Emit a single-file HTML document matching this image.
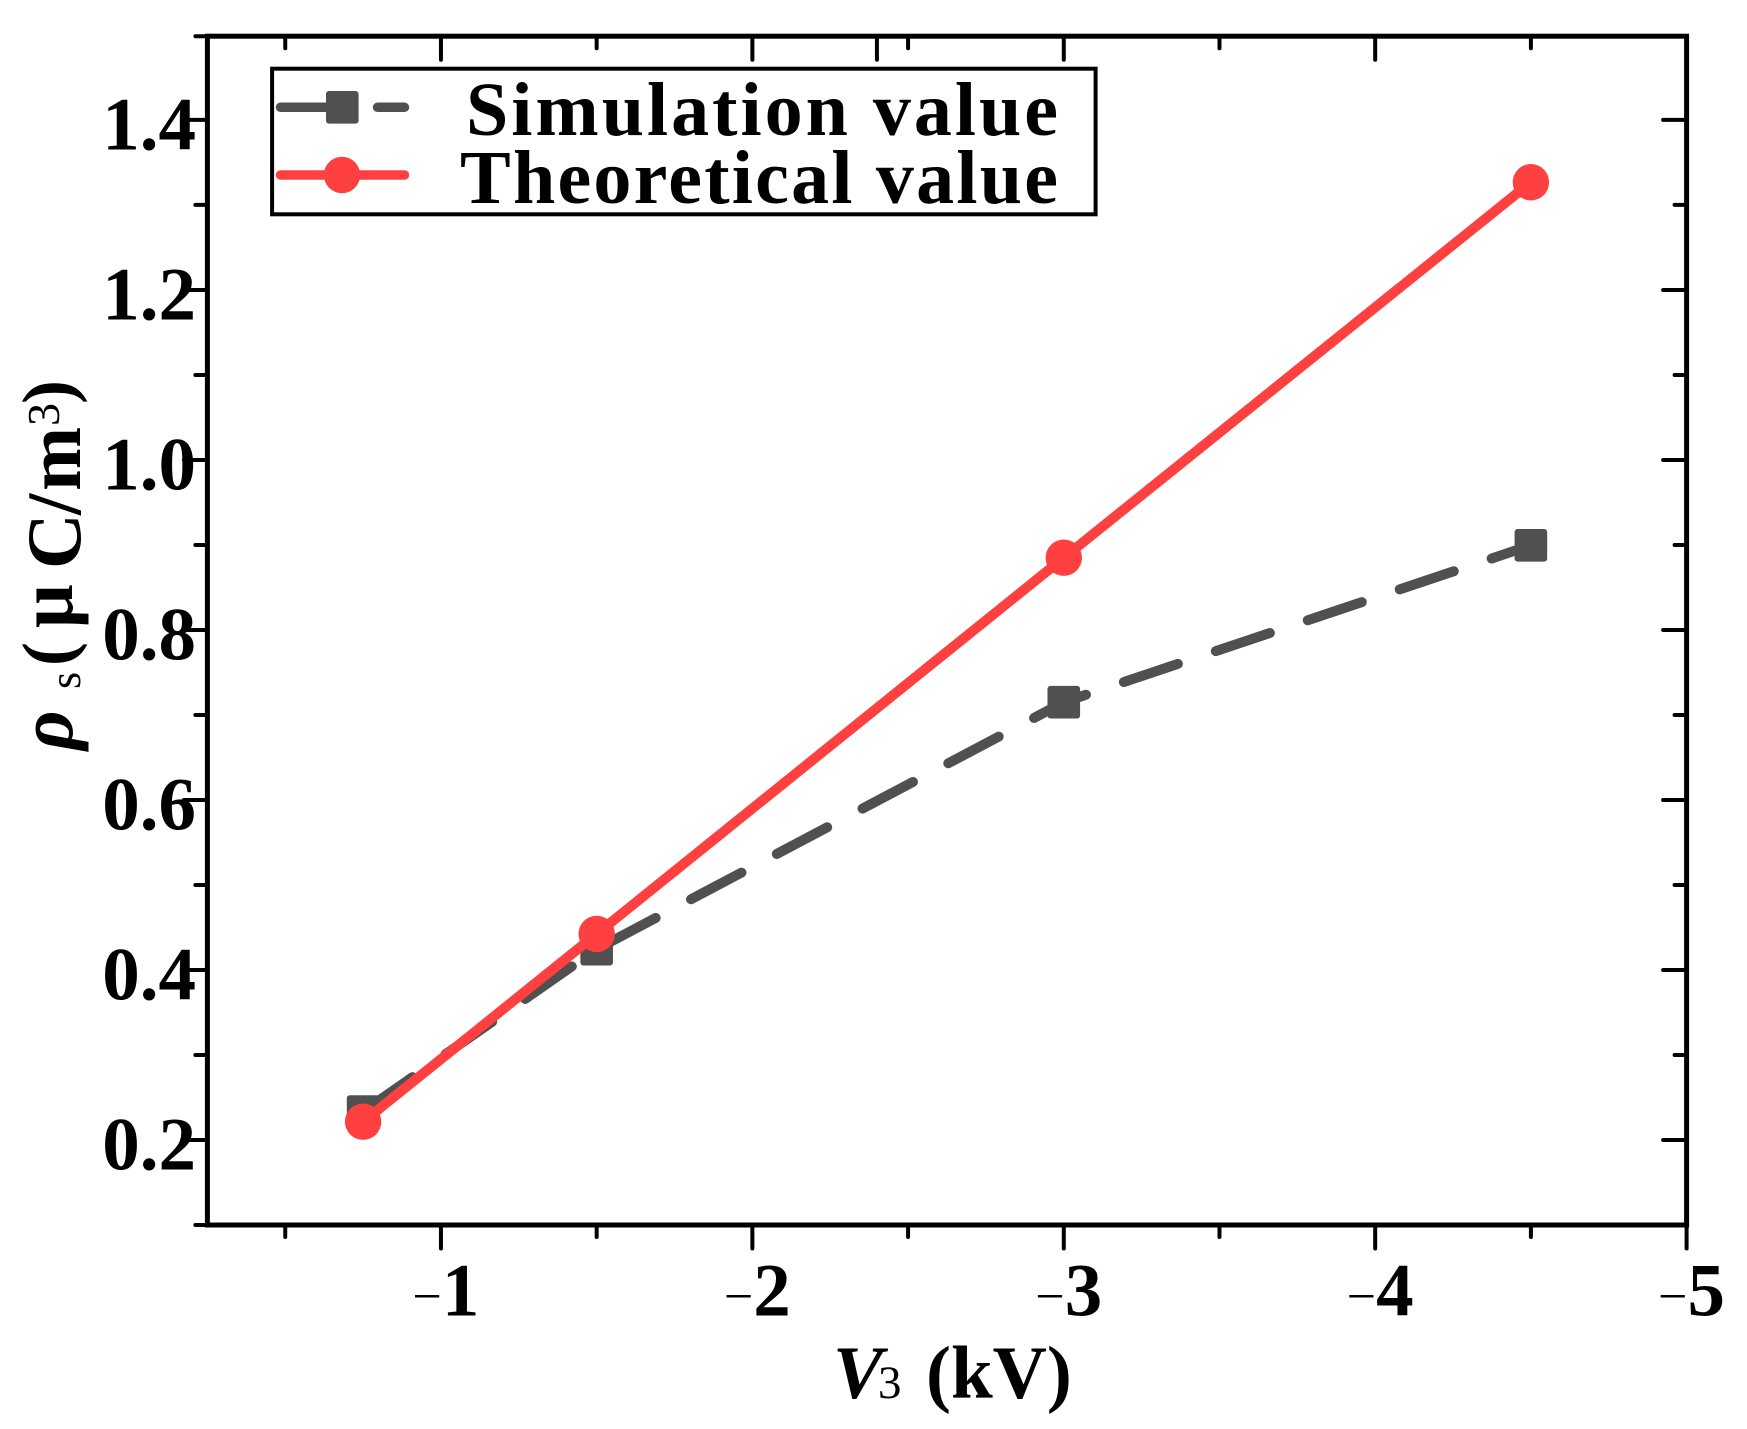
<!DOCTYPE html>
<html lang="en">
<head>
<meta charset="utf-8">
<title>Surface charge density vs V3</title>
<style>
html,body{margin:0;padding:0;background:#fff;width:1747px;height:1429px;overflow:hidden}
svg{display:block}
text{font-family:"Liberation Serif",serif;font-weight:bold;fill:#000}
</style>
</head>
<body>
<svg id="chart" xmlns="http://www.w3.org/2000/svg" width="1747" height="1429" viewBox="0 0 1747 1429">
  <rect x="0" y="0" width="1747" height="1429" fill="#fff"/>
  <g id="labels"></g>
  <g id="ticks"></g>
  <g id="frame"></g>
  <g id="series"></g>

  <text transform="translate(80,750) rotate(-90)" font-size="77"><tspan x="0" y="-8" font-style="italic">ρ</tspan><tspan x="61" y="0" font-size="44" font-weight="normal">s</tspan><tspan x="84" y="-8" font-size="72">(</tspan><tspan x="122" y="-8">μ</tspan><tspan x="181" y="0">C</tspan><tspan x="235" y="0">/</tspan><tspan x="259" y="0">m</tspan><tspan x="324" y="-21" font-size="46" font-weight="normal">3</tspan><tspan x="346" y="-8" font-size="72">)</tspan></text>
  <text font-size="75" y="1398"><tspan x="833" font-style="italic">V</tspan><tspan x="878" font-size="47" font-weight="normal">3</tspan><tspan x="926">(kV)</tspan></text>

  <g>
    <rect x="272.1" y="68.7" width="823.5" height="145.6" fill="#fff" stroke="#000" stroke-width="4"/>
    <line x1="280.5" y1="107.3" x2="404.5" y2="107.3" stroke="#505050" stroke-width="9.5" stroke-linecap="round" stroke-dasharray="57 40"/>
    <rect x="326" y="91" width="32.6" height="32.6" rx="3" fill="#505050"/>
    <text x="466" y="135" font-size="76" textLength="592" lengthAdjust="spacing">Simulation value</text>
    <line x1="280.5" y1="175" x2="404.5" y2="175" stroke="#ff4040" stroke-width="9.5" stroke-linecap="round"/>
    <circle cx="342" cy="175" r="18.2" fill="#ff4040"/>
    <text x="460" y="203" font-size="76" textLength="598" lengthAdjust="spacing">Theoretical value</text>
  </g>
</svg>
<script>
var voltageValues = [-0.75, -1.5, -3, -4.5];
var simulationValues = [0.2335, 0.4245, 0.715, 0.8996];
var theoreticalValues = [0.2215, 0.4424, 0.885, 1.3267];
var xMajorTicks = [-1, -2, -3, -4, -5];
var xMinorTicks = [-0.5, -1.5, -2.5, -3.5, -4.5];
var xExtraTopTicks = [-2.4];
var xTickLabels = ['1', '2', '3', '4', '5'];
var yMajorTicks = [0.2, 0.4, 0.6, 0.8, 1.0, 1.2, 1.4];
var yMinorTicks = [0.1, 0.3, 0.5, 0.7, 0.9, 1.1, 1.3, 1.4985];
var yTickLabels = ['0.2', '0.4', '0.6', '0.8', '1.0', '1.2', '1.4'];
var xDomain = [-0.25, -5];
var yDomain = [0.1, 1.4985];

var NS = 'http://www.w3.org/2000/svg';
var plotLeft = 207.4, plotRight = 1686.6, plotTop = 36.2, plotBottom = 1225;

function xScale(v) {
  return plotLeft + (v - xDomain[0]) / (xDomain[1] - xDomain[0]) * (plotRight - plotLeft);
}
function yScale(v) {
  return plotBottom - (v - yDomain[0]) / (yDomain[1] - yDomain[0]) * (plotBottom - plotTop);
}
function make(tag, parent, attrs) {
  var el = document.createElementNS(NS, tag);
  for (var k in attrs) el.setAttribute(k, attrs[k]);
  parent.appendChild(el);
  return el;
}
function tickLine(parent, x1, y1, x2, y2, name) {
  var el = make('line', parent, {x1: x1, y1: y1, x2: x2, y2: y2, stroke: '#000', 'stroke-width': 4, 'stroke-linecap': 'round'});
  
  
}

var ticks = document.getElementById('ticks');
var MAJOR = 23.5, MINOR = 12;
xMajorTicks.forEach(function (v) {
  var x = xScale(v);
  tickLine(ticks, x, plotBottom, x, plotBottom + MAJOR, 'x-major-tick');
  tickLine(ticks, x, plotTop, x, plotTop + MAJOR, 'top-major-tick');
});
xMinorTicks.forEach(function (v) {
  var x = xScale(v);
  tickLine(ticks, x, plotBottom, x, plotBottom + MINOR, 'x-minor-tick');
  tickLine(ticks, x, plotTop, x, plotTop + MINOR, 'top-minor-tick');
});
xExtraTopTicks.forEach(function (v) {
  var x = xScale(v);
  tickLine(ticks, x, plotTop, x, plotTop + MAJOR, 'top-extra-tick');
});
yMajorTicks.forEach(function (v) {
  var y = yScale(v);
  tickLine(ticks, plotLeft, y, plotLeft - MAJOR, y, 'y-major-tick');
  tickLine(ticks, plotRight, y, plotRight - MAJOR, y, 'right-major-tick');
});
yMinorTicks.forEach(function (v) {
  var y = yScale(v);
  tickLine(ticks, plotLeft, y, plotLeft - MINOR, y, 'y-minor-tick');
  if (v > yDomain[0] && v < 1.4) {
    tickLine(ticks, plotRight, y, plotRight - MINOR, y, 'right-minor-tick');
  }
});

var frame = document.getElementById('frame');
var axisRect = make('rect', frame, {x: plotLeft, y: plotTop, width: plotRight - plotLeft, height: plotBottom - plotTop, fill: 'none', stroke: '#000', 'stroke-width': 5});



var labels = document.getElementById('labels');
yMajorTicks.forEach(function (v, i) {
  var t = make('text', labels, {x: 196, y: yScale(v) + 29.5, 'text-anchor': 'end', 'font-size': 75});
  
  
  t.textContent = yTickLabels[i];
});
xMajorTicks.forEach(function (v, i) {
  var t = make('text', labels, {x: xScale(v) + 5, y: 1315.7, 'text-anchor': 'middle', 'font-size': 75});
  
  
  var minus = make('tspan', t, {'font-size': 52, 'font-weight': 'normal', dy: -2});
  minus.textContent = '\u2212';
  var num = make('tspan', t, {dy: 2});
  num.textContent = xTickLabels[i];
});

var series = document.getElementById('series');
function pointsFor(vals) {
  return vals.map(function (v, i) {
    return xScale(voltageValues[i]).toFixed(2) + ',' + yScale(v).toFixed(2);
  }).join(' ');
}
var simLine = make('polyline', series, {points: pointsFor(simulationValues), fill: 'none', stroke: '#505050', 'stroke-width': 10, 'stroke-linecap': 'round', 'stroke-linejoin': 'round', 'stroke-dasharray': '57 40', 'stroke-dashoffset': -3.2});


simulationValues.forEach(function (v, i) {
  var m = make('rect', series, {x: xScale(voltageValues[i]) - 16.3, y: yScale(v) - 16.3, width: 32.6, height: 32.6, rx: 3, fill: '#505050'});
  
  
});
var theoLine = make('polyline', series, {points: pointsFor(theoreticalValues), fill: 'none', stroke: '#ff4040', 'stroke-width': 10, 'stroke-linejoin': 'round'});


theoreticalValues.forEach(function (v, i) {
  var c = make('circle', series, {cx: xScale(voltageValues[i]), cy: yScale(v), r: 18.2, fill: '#ff4040'});
  
  
});
</script>
</body>
</html>
